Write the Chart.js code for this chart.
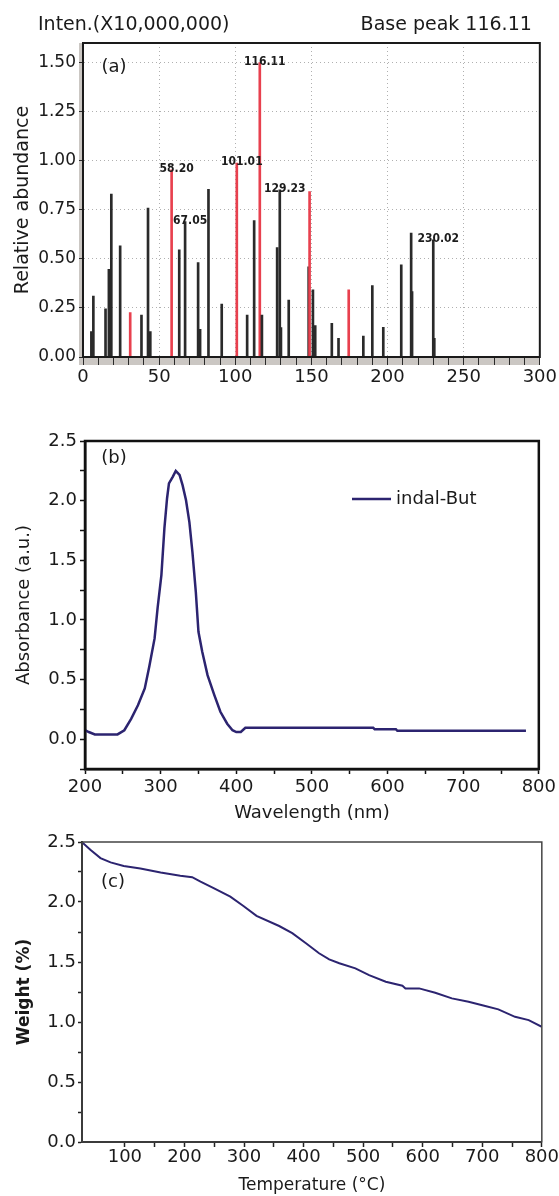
<!DOCTYPE html>
<html>
<head>
<meta charset="utf-8">
<script src="https://cdn.jsdelivr.net/npm/chart.js@4.4.1/dist/chart.umd.min.js"></script>
<style>
  body { margin: 0; background: #fff; width: 559px; height: 1196px; position: relative; overflow: hidden; }
  canvas { position: absolute; left: 0; }
</style>
</head>
<body>
<canvas id="chartA" width="559" height="400" style="top:0px"></canvas>
<canvas id="chartB" width="559" height="424" style="top:400px"></canvas>
<canvas id="chartC" width="559" height="372" style="top:824px"></canvas>
<script>
// ---- (a) mass spectrum: peak m/z and relative abundance ----
const peakMz = [5.5, 6.8, 14.8, 17.0, 18.6, 24.4, 31.0, 38.4, 42.7, 44.2,
  58.2, 63.2, 67.05, 75.6, 76.9, 82.4, 91.1, 101.01, 107.8, 112.4,
  116.11, 117.5, 127.5, 129.23, 130.0, 135.1, 148.2, 148.8, 151.0, 152.5,
  163.4, 167.8, 174.5, 184.1, 190.0, 197.2, 209.0, 215.5, 216.1, 230.02, 230.7];
const peakAbund = [0.13, 0.31, 0.245, 0.447, 0.83, 0.566, 0.226, 0.214, 0.759, 0.129,
  0.954, 0.546, 0.69, 0.481, 0.141, 0.855, 0.27, 0.988, 0.214, 0.695,
  1.50, 0.214, 0.558, 0.852, 0.15, 0.29, 0.46, 0.843, 0.342, 0.16,
  0.172, 0.095, 0.342, 0.107, 0.364, 0.151, 0.47, 0.631, 0.333, 0.597, 0.095];
const redPeaks = [31.0, 58.2, 101.01, 116.11, 148.8, 174.5];
const taggedPeaks = ['58.20', '67.05', '101.01', '116.11', '129.23', '230.02'];
const headerLeft = 'Inten.(X10,000,000)';
const headerRight = 'Base peak 116.11';

// ---- (b) UV-vis absorbance ----
const wavelength = [200, 205, 213, 225, 243, 252, 261, 270, 279, 285, 292, 296, 301, 305, 308.5,
  311, 316, 320, 325, 329, 333.5, 338, 342, 346.5, 350, 355, 362, 371, 379, 388, 395, 400,
  406, 412, 450, 500, 550, 581, 583, 611, 613, 650, 700, 750, 783];
const absorbance = [0.075, 0.06, 0.04, 0.04, 0.04, 0.075, 0.17, 0.285, 0.425, 0.61, 0.845, 1.10, 1.376, 1.77, 2.02,
  2.145, 2.20, 2.25, 2.215, 2.13, 2.005, 1.82, 1.57, 1.235, 0.90, 0.733, 0.537, 0.37, 0.23, 0.13, 0.075, 0.06,
  0.06, 0.095, 0.095, 0.095, 0.095, 0.095, 0.084, 0.084, 0.07, 0.07, 0.07, 0.07, 0.07];

// ---- (c) TGA weight loss ----
const temperature = [28.5, 42, 59, 76, 98, 126, 160, 193, 213, 227, 249, 277, 299, 321, 359, 381, 404,
  426, 443, 460, 487, 510, 538, 566, 571, 594, 621, 649, 677, 705, 727, 755, 778, 800];
const weight = [2.496, 2.435, 2.366, 2.33, 2.30, 2.28, 2.245, 2.218, 2.207, 2.17, 2.115, 2.045, 1.967, 1.884, 1.80, 1.74, 1.656,
  1.573, 1.522, 1.49, 1.447, 1.39, 1.336, 1.302, 1.28, 1.28, 1.244, 1.197, 1.169, 1.133, 1.105, 1.043, 1.016, 0.96];

Chart.defaults.font.family = "'DejaVu Sans', sans-serif";
Chart.defaults.color = '#1a1a1a';

const curveColor = '#2c2470';
const textFont = sz => sz + 'px "DejaVu Sans", sans-serif';

// frame, panel tag, bands, header and legend drawn around the plot area
const panelDecor = {
  id: 'panelDecor',
  beforeDraw(chart, args, opts) {
    if (!opts.band) return;
    const {ctx, chartArea: a} = chart;
    ctx.save();
    ctx.fillStyle = opts.band;
    ctx.fillRect(a.left - 4, a.top, 4, a.bottom - a.top + 8);
    ctx.fillRect(a.left - 4, a.bottom, a.right - a.left + 4, 8);
    ctx.restore();
  },
  afterDatasetsDraw(chart, args, opts) {
    const {ctx, chartArea: a} = chart;
    ctx.save();
    ctx.strokeStyle = opts.frameColor || '#111';
    ctx.lineWidth = opts.frameWidth || 2;
    ctx.strokeRect(a.left, a.top, a.right - a.left, a.bottom - a.top);

    ctx.fillStyle = '#1a1a1a';
    ctx.textBaseline = 'middle';
    ctx.textAlign = 'center';
    ctx.font = textFont(18);
    ctx.fillText(opts.tag, a.left + opts.tagDx, a.top + opts.tagDy);

    if (opts.header) {
      ctx.font = textFont(19);
      ctx.textAlign = 'left';
      ctx.fillText(headerLeft, a.left - 45, a.top - 18);
      ctx.textAlign = 'right';
      ctx.fillText(headerRight, a.right - 8, a.top - 18);
    }
    if (opts.legend) {
      const ly = a.top + 58, lx = a.left + 267;
      ctx.strokeStyle = curveColor;
      ctx.lineWidth = 2.5;
      ctx.beginPath();
      ctx.moveTo(lx, ly);
      ctx.lineTo(lx + 39, ly);
      ctx.stroke();
      ctx.font = textFont(18);
      ctx.textAlign = 'left';
      ctx.fillText(chart.data.datasets[0].label, lx + 44, ly);
    }
    ctx.restore();
  }
};

// m/z labels above the tagged peaks
const peakTags = {
  id: 'peakTags',
  afterDatasetsDraw(chart) {
    const {ctx, scales: {x, y}} = chart;
    ctx.save();
    ctx.font = 'bold 12px "Liberation Sans Narrow", "DejaVu Sans Condensed", sans-serif';
    ctx.fillStyle = '#1c1c1c';
    ctx.textAlign = 'center';
    ctx.textBaseline = 'bottom';
    taggedPeaks.forEach(tag => {
      const i = peakMz.indexOf(parseFloat(tag));
      if (i < 0) return;
      ctx.fillText(tag, x.getPixelForValue(peakMz[i]) + 5, y.getPixelForValue(peakAbund[i]) + 5);
    });
    ctx.restore();
  }
};

const isStep = (v, step) => Math.abs(v / step - Math.round(v / step)) < 1e-6;

// ---------- chart (a) ----------
new Chart(document.getElementById('chartA'), {
  type: 'bar',
  data: {
    datasets: [{
      label: 'Relative abundance',
      data: peakMz.map((m, i) => ({x: m, y: peakAbund[i]})),
      backgroundColor: peakMz.map(m => redPeaks.includes(m) ? '#e8404e' : '#2a2a2a'),
      barThickness: 2
    }]
  },
  options: {
    responsive: false,
    animation: false,
    layout: {padding: {top: 43, right: 17, left: 0, bottom: 0}},
    plugins: {
      legend: {display: false},
      tooltip: {enabled: false},
      panelDecor: {tag: '(a)', tagDx: 31, tagDy: 24, frameWidth: 2, frameColor: '#1a1a1a', band: '#cbc7c3', header: true}
    },
    scales: {
      x: {
        type: 'linear', min: 0, max: 300, offset: false,
        afterFit: s => { s.height = 43; },
        border: {display: true, color: '#1a1a1a', width: 2, dash: [1, 3]},
        grid: {
          offset: false,
          color: c => (c.tick && isStep(c.tick.value, 50) && c.tick.value > 0 && c.tick.value < 300) ? '#b0b0b0' : 'rgba(0,0,0,0)',
          tickColor: '#2a2a2a', tickBorderDash: [], tickLength: 8, tickWidth: 1
        },
        ticks: {stepSize: 10, autoSkip: false, maxRotation: 0, padding: 2, font: {size: 18},
          callback: v => isStep(v, 50) ? v : ''}
      },
      y: {
        min: 0, max: 1.6,
        afterFit: s => { s.width = 83; },
        afterBuildTicks: s => { s.ticks = s.ticks.filter(t => t.value <= 1.5 + 1e-9); },
        border: {display: true, color: '#1a1a1a', width: 2, dash: [1, 3]},
        grid: {
          color: c => (c.tick && c.tick.value > 0) ? '#b0b0b0' : 'rgba(0,0,0,0)',
          tickColor: '#2a2a2a', tickBorderDash: [], tickLength: 4, tickWidth: 1
        },
        ticks: {stepSize: 0.25, padding: 3, font: {size: 17}, callback: v => v.toFixed(2)},
        title: {display: true, text: 'Relative abundance', font: {size: 19}, padding: {top: 12, bottom: 0}}
      }
    }
  },
  plugins: [panelDecor, peakTags]
});

// ---------- chart (b) ----------
new Chart(document.getElementById('chartB'), {
  type: 'line',
  data: {
    datasets: [{
      label: 'indal-But',
      data: wavelength.map((w, i) => ({x: w, y: absorbance[i]})),
      borderColor: curveColor,
      borderWidth: 2.5,
      pointRadius: 0,
      tension: 0
    }]
  },
  options: {
    responsive: false,
    animation: false,
    layout: {padding: {top: 41, right: 17, left: 0, bottom: 0}},
    plugins: {
      legend: {display: false},
      tooltip: {enabled: false},
      panelDecor: {tag: '(b)', tagDx: 29, tagDy: 17, frameWidth: 2.5, frameColor: '#111', legend: true}
    },
    scales: {
      x: {
        type: 'linear', min: 200, max: 800,
        afterFit: s => { s.height = 55; },
        border: {display: true, color: '#111', width: 2.5},
        grid: {drawOnChartArea: false, tickColor: '#111', tickLength: 5, tickWidth: 1.5},
        ticks: {stepSize: 50, autoSkip: false, maxRotation: 0, padding: 3, font: {size: 18},
          callback: v => isStep(v, 100) ? v : ''},
        title: {display: true, text: 'Wavelength (nm)', font: {size: 18}, padding: {top: 0, bottom: 0}}
      },
      y: {
        min: -0.25, max: 2.5,
        afterFit: s => { s.width = 85; },
        border: {display: true, color: '#111', width: 2.5},
        grid: {drawOnChartArea: false, tickColor: '#111', tickLength: 5, tickWidth: 1.5},
        ticks: {stepSize: 0.25, autoSkip: false, padding: 3, font: {size: 18},
          callback: v => (v >= 0 && isStep(v, 0.5)) ? v.toFixed(1) : ''},
        title: {display: true, text: 'Absorbance (a.u.)', font: {size: 18}, padding: {top: 14, bottom: 0}}
      }
    }
  },
  plugins: [panelDecor]
});

// ---------- chart (c) ----------
new Chart(document.getElementById('chartC'), {
  type: 'line',
  data: {
    datasets: [{
      label: 'Weight',
      data: temperature.map((t, i) => ({x: t, y: weight[i]})),
      borderColor: curveColor,
      borderWidth: 2,
      pointRadius: 0,
      tension: 0
    }]
  },
  options: {
    responsive: false,
    animation: false,
    layout: {padding: {top: 18, right: 17, left: 0, bottom: 0}},
    plugins: {
      legend: {display: false},
      tooltip: {enabled: false},
      panelDecor: {tag: '(c)', tagDx: 31, tagDy: 40, frameWidth: 1.5, frameColor: '#444'}
    },
    scales: {
      x: {
        type: 'linear', min: 28, max: 800,
        afterFit: s => { s.height = 54; },
        afterBuildTicks: s => { s.ticks = s.ticks.filter(t => isStep(t.value, 50)); },
        border: {display: true, color: '#222', width: 2},
        grid: {drawOnChartArea: false, tickColor: '#222', tickLength: 5, tickWidth: 1.5},
        ticks: {stepSize: 50, autoSkip: false, maxRotation: 0, padding: 0, font: {size: 18},
          callback: v => isStep(v, 100) ? v : ''},
        title: {display: true, text: 'Temperature (°C)', font: {size: 17}, padding: {top: 0, bottom: 0}}
      },
      y: {
        min: 0, max: 2.5,
        afterFit: s => { s.width = 82; },
        border: {display: true, color: '#222', width: 2},
        grid: {drawOnChartArea: false, tickColor: '#222', tickLength: 4, tickWidth: 1.5},
        ticks: {stepSize: 0.25, autoSkip: false, padding: 2, font: {size: 18},
          callback: v => isStep(v, 0.5) ? v.toFixed(1) : ''},
        title: {display: true, text: 'Weight (%)', font: {size: 17, weight: 'bold'}, padding: {top: 14, bottom: 0}}
      }
    }
  },
  plugins: [panelDecor]
});
</script>
</body>
</html>
